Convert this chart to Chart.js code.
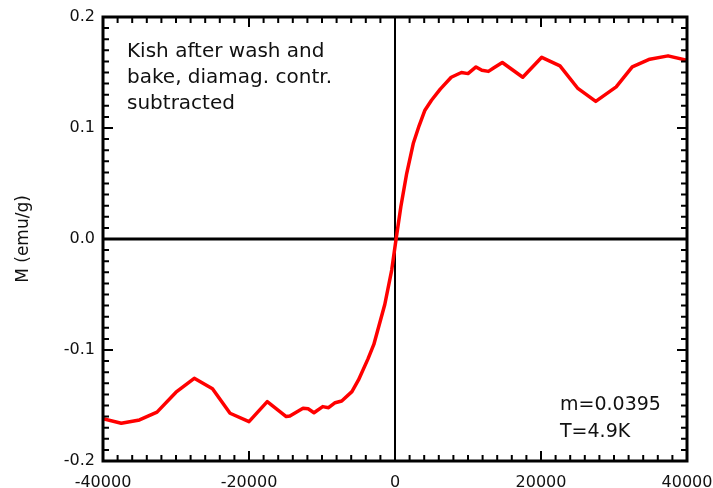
<!DOCTYPE html>
<html>
<head>
<meta charset="utf-8">
<title>Kish M(H)</title>
<script src="https://cdn.jsdelivr.net/npm/chart.js@4"></script>
<style>
    html, body { margin: 0; padding: 0; background: #fff; }
    canvas { display: block; }
</style>
</head>
<body>
<canvas id="mhChart" width="713" height="488"></canvas>
<script>
// M(H) loop of Kish graphite

// field (Oe) and magnetisation (emu/g)
const fieldOe = [
    -40000, -37500, -35000, -32600, -30000, -27500, -25000, -22600, -20000, -17500,
    -14900, -14400, -12600, -11900, -11100, -9900, -9100, -8200, -7300, -5900,
    -5000, -3700, -2900, -1400, -450, 150, 800, 1600, 2500, 3300,
    4100, 5000, 6200, 7700, 9100, 10000, 11100, 11900, 12800, 13500,
    14700, 17500, 20100, 22600, 25000, 27500, 30300, 32500, 34900, 37400,
    40000
];
const momentEmu = [
    -0.162, -0.166, -0.163, -0.156, -0.138, -0.1255, -0.135, -0.157, -0.1645, -0.1465,
    -0.160, -0.1595, -0.1525, -0.153, -0.1565, -0.151, -0.152, -0.1475, -0.146, -0.1375,
    -0.127, -0.108, -0.095, -0.059, -0.028, 0.0, 0.029, 0.059, 0.086, 0.102,
    0.116, 0.125, 0.135, 0.1457, 0.150, 0.149, 0.155, 0.152, 0.151, 0.154,
    0.159, 0.1457, 0.1637, 0.156, 0.136, 0.124, 0.137, 0.155, 0.162, 0.165,
    0.161
];

// axis ticks
const xTickValues = [-40000, -20000, 0, 20000, 40000];
const yTickValues = [-0.2, -0.1, 0.0, 0.1, 0.2];
const xMinorStep = 2000;
const yMinorStep = 0.01;

// text boxes inside the plot
const noteLines = ['Kish after wash and', 'bake, diamag. contr.', 'subtracted'];
const sampleLines = ['m=0.0395', 'T=4.9K'];

const FONT = "'DejaVu Sans', 'Liberation Sans', Arial, sans-serif";

// zero lines, inward ticks on all four sides, frame and the notes
const framePlugin = {
    id: 'framePlugin',
    beforeDatasetsDraw(chart) {
        const { ctx, chartArea: a, scales: { x, y } } = chart;
        ctx.save();
        ctx.strokeStyle = '#000';
        ctx.lineWidth = 3;
        const y0 = y.getPixelForValue(0);
        ctx.beginPath();
        ctx.moveTo(a.left, y0);
        ctx.lineTo(a.right, y0);
        ctx.stroke();
        ctx.lineWidth = 2;
        const x0 = x.getPixelForValue(0);
        ctx.beginPath();
        ctx.moveTo(x0, a.top);
        ctx.lineTo(x0, a.bottom);
        ctx.stroke();
        ctx.restore();
    },
    afterDatasetsDraw(chart) {
        const { ctx, chartArea: a, scales: { x, y } } = chart;
        ctx.save();
        ctx.strokeStyle = '#000';

        // minor + major ticks, pointing inward
        ctx.lineWidth = 2;
        ctx.beginPath();
        const xn = Math.round((x.max - x.min) / xMinorStep);
        for (let i = 0; i <= xn; i++) {
            const v = x.min + i * xMinorStep;
            const px = x.getPixelForValue(v);
            const len = (v % 20000 === 0) ? 10 : 6;
            ctx.moveTo(px, a.bottom);
            ctx.lineTo(px, a.bottom - len);
            ctx.moveTo(px, a.top);
            ctx.lineTo(px, a.top + len);
        }
        const yn = Math.round((y.max - y.min) / yMinorStep);
        for (let i = 0; i <= yn; i++) {
            const v = y.min + i * yMinorStep;
            const py = y.getPixelForValue(v);
            const len = (i % 10 === 0) ? 10 : 6;
            ctx.moveTo(a.left, py);
            ctx.lineTo(a.left + len, py);
            ctx.moveTo(a.right, py);
            ctx.lineTo(a.right - len, py);
        }
        ctx.stroke();

        // frame
        ctx.lineWidth = 3;
        ctx.strokeRect(a.left, a.top, a.right - a.left, a.bottom - a.top);

        // notes
        ctx.fillStyle = '#111';
        ctx.textAlign = 'left';
        ctx.textBaseline = 'alphabetic';
        ctx.font = '20px ' + FONT;
        noteLines.forEach((t, i) => ctx.fillText(t, a.left + 24, a.top + 40 + i * 26));
        ctx.font = '19px ' + FONT;
        sampleLines.forEach((t, i) => ctx.fillText(t, a.left + 457, a.top + 393 + i * 27));
        ctx.restore();
    }
};

const points = fieldOe.map((h, i) => ({ x: h, y: momentEmu[i] }));

new Chart(document.getElementById('mhChart').getContext('2d'), {
    type: 'line',
    data: {
        datasets: [{
            data: points,
            borderColor: '#ff0000',
            borderWidth: 3.5,
            pointRadius: 0,
            tension: 0,
            borderJoinStyle: 'round',
            fill: false
        }]
    },
    options: {
        responsive: false,
        animation: false,
        layout: { padding: { top: 17, right: 26, left: 0, bottom: 0 } },
        plugins: {
            legend: { display: false },
            tooltip: { enabled: false }
        },
        scales: {
            x: {
                type: 'linear',
                min: -40000,
                max: 40000,
                afterBuildTicks: s => { s.ticks = xTickValues.map(v => ({ value: v })); },
                afterFit: s => { s.height = 27; s.paddingLeft = 0; s.paddingRight = 0; },
                grid: { display: false },
                border: { display: false },
                ticks: {
                    font: { family: FONT, size: 16 },
                    color: '#111',
                    padding: 4,
                    maxRotation: 0,
                    autoSkip: false,
                    callback: v => String(v)
                }
            },
            y: {
                type: 'linear',
                min: -0.2,
                max: 0.2,
                afterBuildTicks: s => { s.ticks = yTickValues.map(v => ({ value: v })); },
                afterFit: s => { s.width = 103; s.paddingTop = 0; s.paddingBottom = 0; },
                grid: { display: false },
                border: { display: false },
                title: {
                    display: true,
                    text: 'M (emu/g)',
                    font: { family: FONT, size: 17 },
                    color: '#111',
                    padding: { top: 13, bottom: 0 }
                },
                ticks: {
                    font: { family: FONT, size: 16 },
                    color: '#111',
                    padding: 0,
                    autoSkip: false,
                    callback: v => (Math.abs(v) < 1e-9 ? 0 : v).toFixed(1)
                }
            }
        }
    },
    plugins: [framePlugin]
});
</script>
</body>
</html>
